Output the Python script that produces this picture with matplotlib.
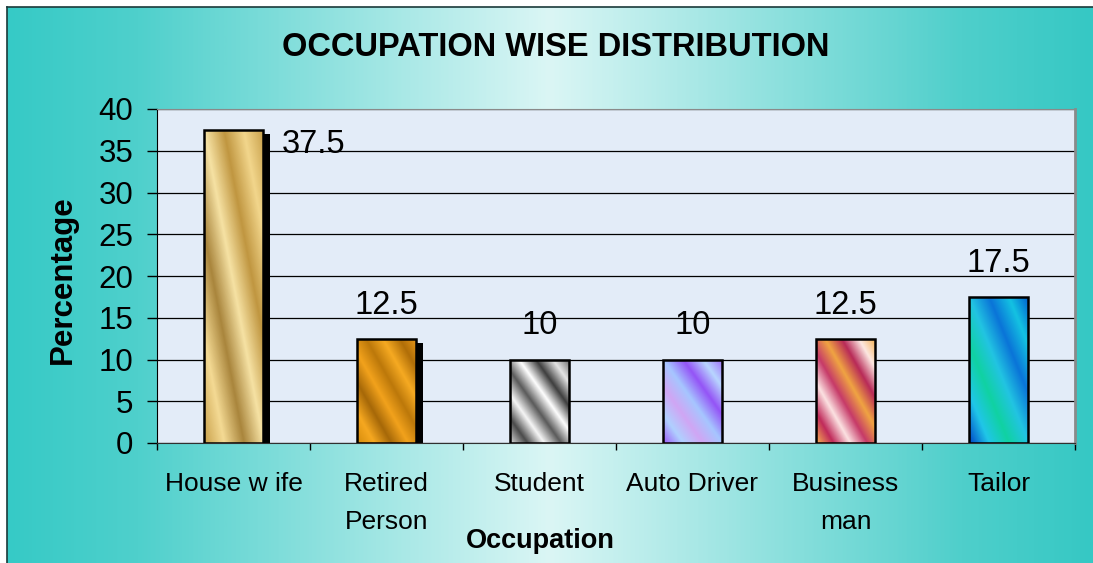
import numpy as np
import matplotlib
matplotlib.use("Agg")
import matplotlib.pyplot as plt
from matplotlib.colors import LinearSegmentedColormap

plt.rcParams['font.family'] = ['Liberation Sans', 'DejaVu Sans']

# ---- data ----
categories = ["House w ife", "Retired\nPerson", "Student", "Auto Driver", "Business\nman", "Tailor"]
values = [37.5, 12.5, 10, 10, 12.5, 17.5]
value_labels = ["37.5", "12.5", "10", "10", "12.5", "17.5"]
y_ticks = [0, 5, 10, 15, 20, 25, 30, 35, 40]
title = "OCCUPATION WISE DISTRIBUTION"
x_title = "Occupation"
y_title = "Percentage"

# ---- styles ----
has_shadow = [True, True, False, False, False, False]
bar_stops = [
    ['#caa24c', '#f4da94', '#a9853c', '#f6e2a4', '#c09640', '#f2d68c', '#c8a04a'],
    ['#d68c0c', '#f6a820', '#a66808', '#f2a21c', '#bc780a', '#f6aa22', '#b06e08', '#e89818'],
    ['#d8d8d8', '#4a4a4a', '#f6f6f6', '#5a5a5a', '#ffffff', '#3e3e3e', '#e4e4e4', '#6a6a6a'],
    ['#9c5cf8', '#b0d0ff', '#d0a6f4', '#a6c6ff', '#9454f6', '#b8d6ff', '#a06cf8'],
    ['#f6b252', '#c02a5a', '#fce2e2', '#c63a68', '#f0a442', '#b82a58', '#fde8e2', '#f4b050'],
    ['#0046c6', '#20c6e8', '#10d2a2', '#22c4e2', '#0a74d8', '#14c2e2', '#005ed0'],
]

W, H = 1093, 563
fig = plt.figure(figsize=(W / 100, H / 100), dpi=100)
fig.patch.set_facecolor('white')

# background gradient panel with border
bx0, by_top = 7, 7
bg = fig.add_axes([bx0 / W, 0, 1 - bx0 / W, 1 - by_top / H], zorder=0)
grad_cmap = LinearSegmentedColormap.from_list(
    'bgc', [(0, '#36cac6'), (0.12, '#4fd0cc'), (0.5, '#dbf6f5'), (0.88, '#4fcfcb'), (1, '#36c8c4')])
g = np.linspace(0, 1, 512)[None, :]
bg.imshow(g, cmap=grad_cmap, aspect='auto', extent=[0, 1, 0, 1], interpolation='bilinear')
bg.set_xlim(0, 1); bg.set_ylim(0, 1)
bg.set_xticks([]); bg.set_yticks([])
for s in ['right', 'bottom']:
    bg.spines[s].set_visible(False)
for s in ['left', 'top']:
    bg.spines[s].set_color('#1a3a3a')
    bg.spines[s].set_linewidth(1.2)

# main axes
L, R, T, B = 157, 1075, 109, 443
ax = fig.add_axes([L / W, 1 - B / H, (R - L) / W, (B - T) / H], zorder=2)
ax.set_facecolor('#e3ecf8')

x = np.arange(len(categories))
bar_w = 0.39
px_per_x = (R - L) / len(categories)
px_per_y = (B - T) / 40.0
sh_dx = 7 / px_per_x
sh_dy = 4.5 / px_per_y

# shadows
vals = np.array(values, dtype=float)
sh_mask = np.array(has_shadow)
ax.bar(x[sh_mask] + sh_dx, vals[sh_mask] - sh_dy, width=bar_w, color='black', zorder=2.5)

bars = ax.bar(x, vals, width=bar_w, facecolor='none', edgecolor='black', linewidth=1.8, zorder=4)

# gradient fill of bars
for patch, stops in zip(bars.patches, bar_stops):
    x0, y0 = patch.get_x(), patch.get_y()
    w, h = patch.get_width(), patch.get_height()
    uu = np.linspace(0, 1, 80)
    vv = np.linspace(0, 1, 200)
    U, V = np.meshgrid(uu, vv)
    S = (U + V) / 2.0
    cmap = LinearSegmentedColormap.from_list('c', stops)
    im = ax.imshow(S, cmap=cmap, extent=[x0, x0 + w, y0, y0 + h], origin='lower',
                   aspect='auto', interpolation='bilinear', zorder=3, vmin=0, vmax=1)
    im.set_clip_path(patch)

# value labels
for i, (patch, lab) in enumerate(zip(bars.patches, value_labels)):
    top = patch.get_height()
    if i == 0:
        ax.annotate(lab, (patch.get_x() + patch.get_width(), top), xytext=(13, -17),
                    textcoords='offset points', ha='left', va='baseline', fontsize=23.5, zorder=5)
    else:
        ax.annotate(lab, (patch.get_x() + patch.get_width() / 2, top), xytext=(0, 18),
                    textcoords='offset points', ha='center', va='baseline', fontsize=23.5, zorder=5)

ax.set_xlim(-0.5, len(categories) - 0.5)
ax.set_ylim(0, 40)
ax.set_yticks(y_ticks)
ax.set_yticklabels([str(t) for t in y_ticks], fontsize=22.5)
ax.tick_params(axis='y', direction='out', length=7, width=1, pad=10, colors='black')
ax.grid(axis='y', color='black', linewidth=0.9, zorder=1)
ax.set_axisbelow(True)

ax.set_xticks(np.arange(-0.5, len(categories), 1.0))
ax.set_xticklabels([])
ax.set_xticks(x, minor=True)
ax.set_xticklabels(categories, minor=True, fontsize=19, linespacing=1.75)
ax.tick_params(axis='x', which='major', direction='out', length=5, width=1)
ax.tick_params(axis='x', which='minor', length=0, pad=21)

ax.spines['left'].set_color('black')
ax.spines['bottom'].set_color('#303030')
ax.spines['top'].set_color('#8a8a8a')
ax.spines['right'].set_color('#8a8a8a')
ax.spines['right'].set_linewidth(2)

ax.set_xlabel(x_title, fontsize=19.5, fontweight='bold')
ax.xaxis.set_label_coords((540 - L) / (R - L), (B - 528) / (B - T))
ax.set_ylabel(y_title, fontsize=22.5, fontweight='bold')
ax.yaxis.set_label_coords((63 - L) / (R - L), (B - 280) / (B - T))
ax.yaxis.label.set_va('center')
ax.yaxis.label.set_ha('center')

fig.text(556 / W, 1 - 47 / H, title, ha='center', va='center', fontsize=23.5, fontweight='bold', zorder=5)

fig.savefig('out.png', dpi=100)
